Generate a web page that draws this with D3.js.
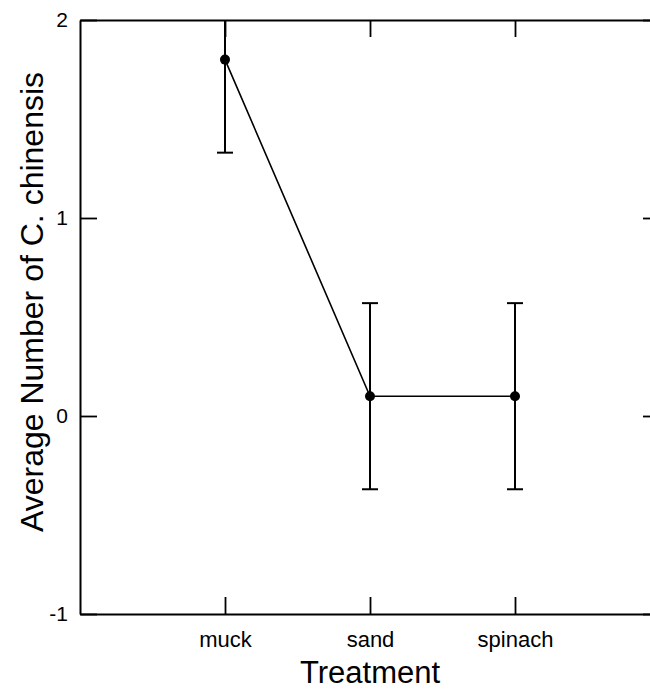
<!DOCTYPE html>
<html>
<head>
<meta charset="utf-8">
<script src="https://cdn.jsdelivr.net/npm/d3@7"></script>
<style>
  html, body { margin: 0; background: #fff; overflow: hidden; }
  svg { display: block; }
  text { font-family: "Liberation Sans", Arial, sans-serif; fill: #000; }
</style>
</head>
<body>
<div id="chart"></div>
<script>
var treatments = ["muck", "sand", "spinach"];
var means = [1.8, 0.1, 0.1];
var errors = [0.47, 0.47, 0.47];
var yTicks = [-1, 0, 1, 2];

var width = 650, height = 690;
var margin = {left: 80, top: 20, right: -10, bottom: 76};

var svg = d3.select("#chart").append("svg")
    .attr("width", width)
    .attr("height", height);

// treatments sit at 1,2,3 with one step of padding on each side
var x = d3.scaleLinear()
    .domain([0, treatments.length + 1])
    .range([margin.left, width - margin.right]);

var y = d3.scaleLinear()
    .domain([-1, 2])
    .range([height - margin.bottom, margin.top]);

var tickLen = 17;

svg.append("g")
    .attr("transform", "translate(0," + y(-1) + ")")
    .call(d3.axisBottom(x).tickValues([1, 2, 3]).tickSizeInner(-tickLen).tickSizeOuter(0)
        .tickFormat(function(d){ return treatments[d - 1]; }))
    .call(function(g){
        g.select(".domain").attr("stroke-width", 2);
        g.selectAll(".tick line").attr("stroke-width", 1.8);
        g.selectAll(".tick text").attr("y", 0).attr("dy", 33).style("font-size", "22px");
    });

svg.append("g")
    .attr("transform", "translate(0," + y(2) + ")")
    .call(d3.axisTop(x).tickValues([1, 2, 3]).tickSizeInner(-tickLen).tickSizeOuter(0).tickFormat(""))
    .call(function(g){
        g.select(".domain").attr("stroke-width", 2);
        g.selectAll(".tick line").attr("stroke-width", 1.8);
    });

svg.append("g")
    .attr("transform", "translate(" + x(0) + ",0)")
    .call(d3.axisLeft(y).tickValues(yTicks).tickSizeInner(-tickLen).tickSizeOuter(0)
        .tickFormat(function(d){ return String(d); }))
    .call(function(g){
        g.select(".domain").attr("stroke-width", 2);
        g.selectAll(".tick line").attr("stroke-width", 1.8);
        g.selectAll(".tick text").attr("x", -12).style("font-size", "21px");
    });

// right axis sits just past the canvas edge, only its ticks show
svg.append("g")
    .attr("transform", "translate(" + x(treatments.length + 1) + ",0)")
    .call(d3.axisRight(y).tickValues(yTicks).tickSizeInner(-tickLen).tickSizeOuter(0).tickFormat(""))
    .call(function(g){
        g.select(".domain").remove();
        g.selectAll(".tick line").attr("stroke-width", 1.8);
    });

var data = treatments.map(function(t, i){
    return {name: t, pos: i + 1, mean: means[i], err: errors[i]};
});

var yMax = y.domain()[1], yMin = y.domain()[0];
function hi(d){ return Math.min(d.mean + d.err, yMax); }
function lo(d){ return Math.max(d.mean - d.err, yMin); }

// error bars (cut at the frame, caps only where the bar ends inside)
var eb = svg.selectAll(".eb").data(data).enter().append("g").attr("class", "eb")
    .attr("stroke", "#000").attr("stroke-width", 2);
eb.append("line")
    .attr("x1", d => x(d.pos)).attr("x2", d => x(d.pos))
    .attr("y1", d => y(hi(d))).attr("y2", d => y(lo(d)));
eb.filter(d => d.mean + d.err < yMax).append("line")
    .attr("x1", d => x(d.pos) - 8).attr("x2", d => x(d.pos) + 8)
    .attr("y1", d => y(hi(d))).attr("y2", d => y(hi(d)));
eb.filter(d => d.mean - d.err > yMin).append("line")
    .attr("x1", d => x(d.pos) - 8).attr("x2", d => x(d.pos) + 8)
    .attr("y1", d => y(lo(d))).attr("y2", d => y(lo(d)));

svg.append("path").datum(data)
    .attr("fill", "none")
    .attr("stroke", "#000")
    .attr("stroke-width", 1.6)
    .attr("d", d3.line().x(d => x(d.pos)).y(d => y(d.mean)));

svg.selectAll(".dot").data(data).enter().append("circle")
    .attr("class", "dot")
    .attr("cx", d => x(d.pos))
    .attr("cy", d => y(d.mean))
    .attr("r", 5)
    .attr("fill", "#000");

svg.append("text")
    .attr("x", 370).attr("y", 683)
    .attr("text-anchor", "middle")
    .style("font-size", "31px")
    .text("Treatment");

svg.append("text")
    .attr("transform", "translate(43,302) rotate(-90)")
    .attr("text-anchor", "middle")
    .style("font-size", "32px")
    .text("Average Number of C. chinensis");
</script>
</body>
</html>
